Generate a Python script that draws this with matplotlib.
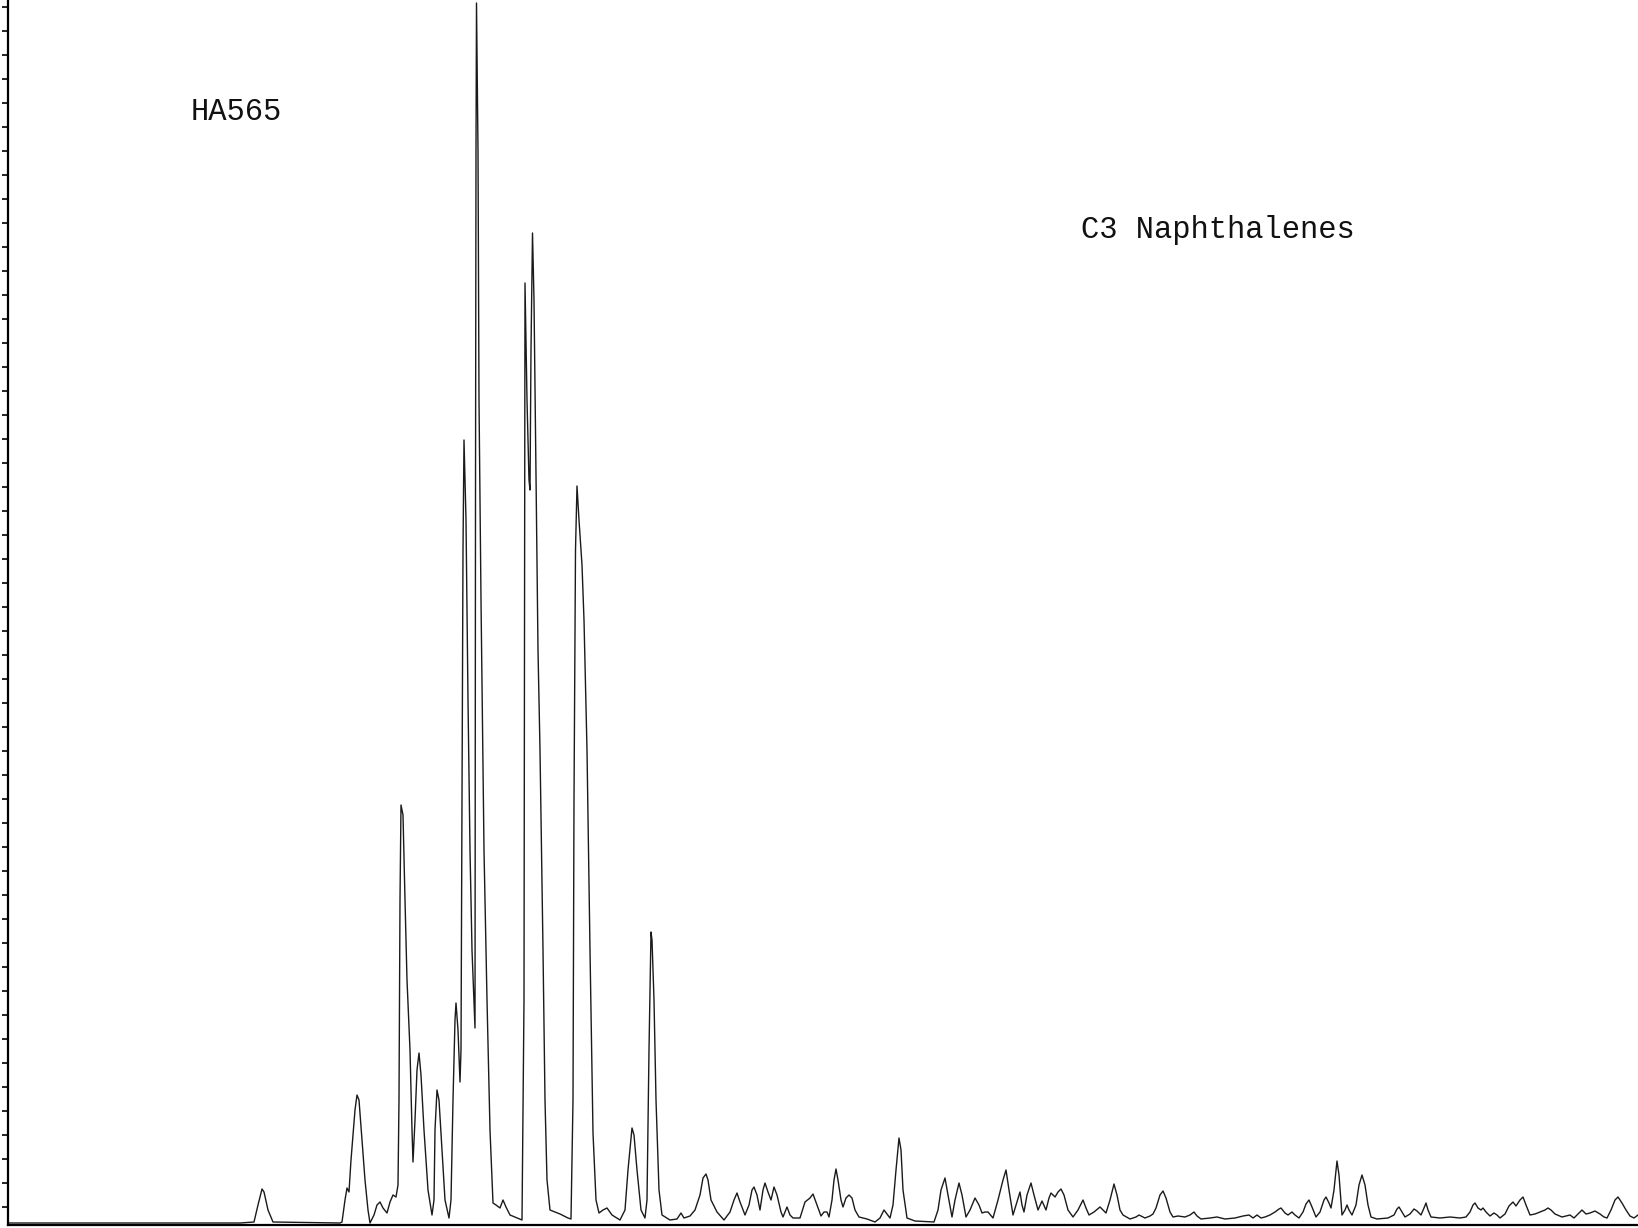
import matplotlib
matplotlib.use("Agg")
import matplotlib.pyplot as plt
import numpy as np

# Chromatogram trace (scan number, abundance)
scan = [8, 240, 254, 258, 262, 264, 268, 273, 340, 342, 345, 347, 349, 351, 355, 357, 359, 362, 365, 368,
        370, 374, 377, 380, 383, 387, 390, 393, 396, 398, 399, 400, 401, 403, 405, 407, 410, 412, 413, 415,
        417, 419, 421, 424, 428, 432, 434, 435, 437, 439, 442, 445, 449, 451, 453, 455, 456, 458, 460, 461,
        462, 463, 464, 466, 468, 470, 472, 475, 475.5, 476, 476.5, 478, 479, 481, 484, 487, 490, 493, 496, 500,
        503, 506, 510, 522, 524, 524.5, 525, 527, 529, 530, 531, 532.5, 534, 536, 538, 540, 543, 545, 547, 550,
        560, 568, 571, 573, 574, 575.5, 577, 579, 582, 584, 587, 590, 593, 596, 599, 603, 607, 612, 620, 625,
        628, 632, 634, 637, 641, 645, 647, 649, 651, 652, 654, 656, 659, 662, 670, 677, 681, 684, 690, 695,
        700, 703, 706, 708, 711, 717, 724, 730, 734, 737, 740, 745, 749, 752, 754, 757, 760, 763, 765, 768,
        771, 774, 777, 781, 783, 787, 790, 793, 800, 805, 810, 813, 817, 821, 824, 827, 829, 832, 834, 836,
        838, 841, 843, 846, 849, 852, 855, 859, 867, 875, 880, 884, 887, 890, 893, 896, 899, 901, 903, 907,
        915, 934, 938, 941, 945, 948, 952, 955, 959, 962, 966, 970, 975, 979, 982, 985, 988, 993, 998, 1003,
        1006, 1009, 1013, 1016, 1020, 1022, 1024, 1027, 1031, 1034, 1038, 1042, 1046, 1049, 1051, 1055, 1058, 1061, 1064, 1068,
        1073, 1078, 1083, 1086, 1089, 1094, 1100, 1106, 1110, 1114, 1117, 1120, 1123, 1130, 1136, 1139, 1145, 1150, 1153, 1156,
        1160, 1163, 1166, 1170, 1173, 1178, 1185, 1190, 1194, 1197, 1201, 1210, 1217, 1225, 1235, 1243, 1249, 1253, 1257, 1261,
        1265, 1270, 1275, 1279, 1281, 1285, 1288, 1292, 1295, 1299, 1303, 1306, 1309, 1312, 1316, 1320, 1324, 1326, 1329, 1331,
        1334, 1337, 1339, 1342, 1345, 1347, 1349, 1352, 1356, 1359, 1362, 1365, 1368, 1371, 1377, 1388, 1394, 1397, 1399, 1402,
        1405, 1410, 1414, 1417, 1421, 1424, 1426, 1428, 1431, 1440, 1450, 1460, 1466, 1470, 1473, 1475, 1478, 1481, 1483, 1486,
        1490, 1494, 1497, 1500, 1505, 1509, 1513, 1516, 1520, 1523, 1526, 1530, 1535, 1540, 1545, 1548, 1551, 1555, 1562, 1566,
        1570, 1574, 1578, 1582, 1586, 1590, 1595, 1600, 1604, 1607, 1611, 1615, 1618, 1622, 1626, 1630, 1634, 1638]

abundance = [2, 2, 3, 20, 36, 33, 15, 3, 2, 3, 25, 37, 33, 65, 115, 130, 125, 85, 45, 15,
             2, 10, 20, 23, 17, 12, 23, 30, 28, 40, 125, 325, 420, 410, 325, 245, 175, 95, 63, 105,
             155, 172, 150, 95, 35, 10, 25, 95, 135, 125, 75, 25, 7, 25, 125, 205, 222, 195, 143, 175,
             425, 675, 785, 705, 525, 375, 275, 197, 725, 1075, 1222, 1075, 825, 625, 375, 225, 95, 22, 20, 17,
             25, 18, 10, 5, 225, 625, 942, 825, 745, 735, 875, 992, 925, 745, 575, 475, 275, 125, 45, 15,
             11, 7, 6, 125, 425, 675, 739, 705, 660, 605, 475, 275, 92, 25, 12, 15, 17, 10, 5, 15,
             55, 97, 90, 55, 15, 7, 25, 175, 293, 285, 225, 125, 35, 10, 5, 6, 12, 7, 9, 15,
             30, 47, 51, 45, 25, 13, 5, 13, 25, 32, 23, 10, 20, 35, 38, 30, 15, 35, 42, 33,
             25, 38, 30, 13, 8, 18, 10, 7, 7, 23, 27, 31, 20, 9, 13, 13, 8, 25, 45, 56,
             45, 25, 18, 27, 30, 27, 15, 8, 6, 3, 7, 15, 11, 7, 20, 55, 87, 75, 35, 7,
             4, 3, 15, 35, 47, 30, 8, 25, 42, 30, 8, 15, 27, 20, 12, 13, 13, 7, 25, 45,
             55, 35, 10, 20, 33, 20, 13, 30, 42, 30, 15, 24, 15, 27, 32, 28, 33, 36, 30, 15,
             8, 15, 25, 17, 10, 13, 18, 12, 25, 41, 30, 15, 10, 6, 8, 10, 7, 9, 11, 17,
             30, 34, 27, 13, 8, 9, 8, 10, 13, 9, 6, 7, 8, 6, 7, 9, 10, 7, 10, 7,
             8, 10, 13, 16, 17, 12, 10, 13, 10, 7, 13, 21, 25, 18, 8, 13, 25, 28, 22, 17,
             35, 64, 50, 10, 15, 20, 15, 10, 20, 40, 50, 40, 20, 8, 6, 7, 10, 16, 18, 13,
             8, 11, 16, 14, 10, 17, 22, 15, 8, 7, 8, 7, 8, 13, 20, 22, 17, 15, 17, 13,
             9, 12, 10, 7, 11, 19, 23, 19, 25, 28, 20, 10, 11, 13, 15, 17, 15, 11, 8, 9,
             10, 7, 11, 15, 11, 12, 14, 11, 8, 7, 15, 25, 28, 22, 15, 9, 7, 10]

sample_label = "HA565"
compound_label = "C3 Naphthalenes"

W, H = 1638, 1228
fig = plt.figure(figsize=(W / 100, H / 100), dpi=100)
ax = fig.add_axes([8 / W, 3 / H, (W - 8) / W, (H - 3) / H])

ax.plot(scan, abundance, color="#1a1a1a", lw=1.0, solid_joinstyle="round")

ax.set_xlim(8, 1638)
ax.set_ylim(0, 1225)

for s in ("top", "right"):
    ax.spines[s].set_visible(False)
ax.spines["left"].set_linewidth(1.6)
ax.spines["bottom"].set_linewidth(1.6)

ax.set_yticks(np.arange(18, 1225, 24))
ax.set_xticks([])
ax.tick_params(axis="y", direction="out", length=4, width=1.2, labelleft=False)

mono = ["Liberation Mono", "DejaVu Sans Mono"]
fig.text(191 / W, 1 - 112 / H, sample_label, family=mono, fontsize=22,
         ha="left", va="center", color="#111")
fig.text(1081 / W, 1 - 230 / H, compound_label, family=mono, fontsize=22,
         ha="left", va="center", color="#111")

fig.savefig("out.png", dpi=100, facecolor="white")
